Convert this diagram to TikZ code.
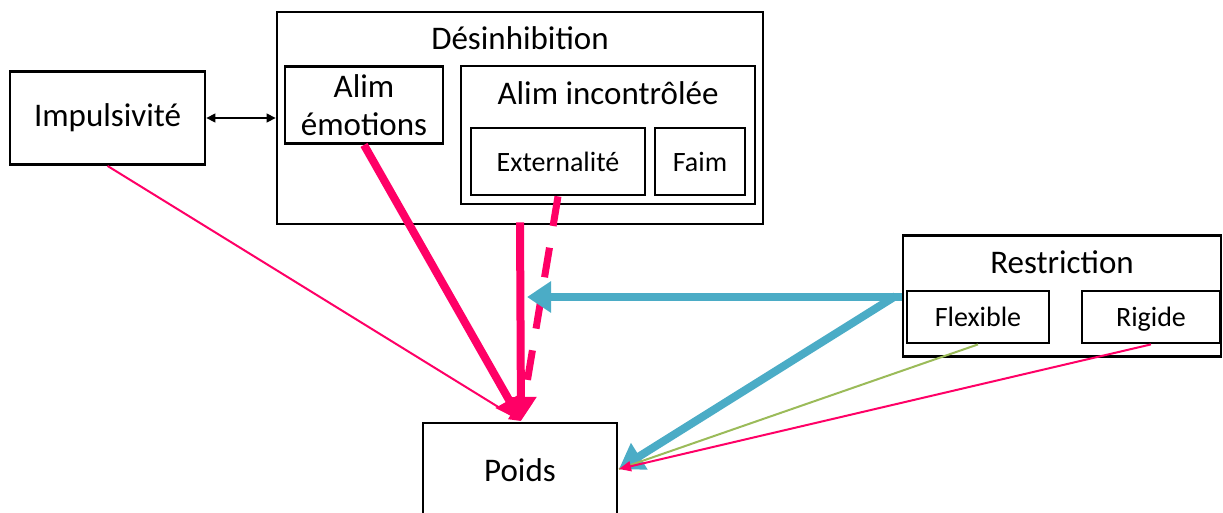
\documentclass[tikz,border=0pt]{standalone}
\usepackage{fontspec}
\setmainfont{Carlito}
\usetikzlibrary{arrows.meta}

\begin{document}
\begin{tikzpicture}[x=1pt, y=-1pt]
    % -----------------------------
    % Parameters (tweak as needed)
    % -----------------------------
    \def\lwBox{2.8pt}     % outline of boxes
    \def\lwThick{8pt}     % strong links
    \def\lwThin{2pt}      % weak links

    % Colours of the links
    \definecolor{linkMag}{HTML}{FF0066}
    \definecolor{linkCyan}{HTML}{4BACC6}
    \definecolor{linkGreen}{HTML}{9BBB59}

    % Label fonts
    \newcommand{\bigfont}{\fontsize{33pt}{38pt}\selectfont}
    \newcommand{\smallfont}{\fontsize{28pt}{30pt}\selectfont}

    % -----------------------------
    % Styles
    % -----------------------------
    \tikzset{box/.style={draw=black, line width=\lwBox, rectangle, inner sep=0pt, align=center},
             smallbox/.style={box, font=\smallfont, text height=24pt, text depth=5pt},
             title/.style={inner sep=0pt, font=\bigfont},
             magStrong/.style={draw=linkMag, line width=\lwThick, -{Triangle[length=24pt, width=30pt]}},
             magWeak/.style={draw=linkMag, line width=\lwThin, -{Triangle[length=12pt, width=10pt]}},
             cyanStrong/.style={draw=linkCyan, line width=\lwThick, -{Triangle[length=24pt, width=30pt]}}}

    % Bounding box of the picture
    \useasboundingbox (0,0) rectangle (1223,512);

    % -----------------------------
    % Boxes
    % -----------------------------
    \node[box, minimum width=195, minimum height=93, font=\bigfont] (Imp) at (107.5,118) {Impulsivité};

    \node[box, minimum width=486, minimum height=212] (Des) at (520,118) {};
    \node[title] (DesT) at (520,38) {Désinhibition};
    \node[box, minimum width=158, minimum height=77, font=\bigfont] (Emo) at (364,105) {Alim\\émotions};
    \node[box, minimum width=294, minimum height=138] (Inc) at (608,135) {};
    \node[title] (IncT) at (608,93) {Alim incontrôlée};
    \node[smallbox, minimum width=174, minimum height=67] (Ext) at (558,161.5) {Externalité};
    \node[smallbox, minimum width=90, minimum height=67] (Faim) at (700,161.5) {Faim};

    \node[box, minimum width=318, minimum height=121] (Res) at (1062,296) {};
    \node[title] (ResT) at (1062,262) {Restriction};
    \node[smallbox, minimum width=142, minimum height=52] (Flex) at (978,317) {Flexible};
    \node[smallbox, minimum width=138, minimum height=52] (Rig) at (1151,317) {Rigide};

    \node[box, minimum width=194, minimum height=94, font=\bigfont] (Poids) at (520,470) {Poids};

    % -----------------------------
    % Links
    % -----------------------------
    \draw[black, line width=1.3pt, {Triangle[length=9pt, width=9pt]}-{Triangle[length=9pt, width=9pt]}]
        (Imp.east) -- (Des.west);

    \coordinate (PoidsTop) at (521,421);
    \coordinate (PoidsSide) at (619,469);
    \coordinate (DesCut) at (527,297);

    \draw[magWeak] (Imp.south) -- (PoidsTop);
    \draw[magStrong] (Emo.south) -- (PoidsTop);
    \draw[magStrong] ([yshift=3]Des.south) -- (PoidsTop);
    \draw[draw=linkMag, line width=7pt, dash pattern=on 30pt off 22pt] (Ext.south) -- ([shift={(1,-8)}]PoidsTop);

    \draw[cyanStrong] (Res.west |- DesCut) -- (DesCut);
    \draw[cyanStrong] ([xshift=-6]Res.west) -- (PoidsSide);
    \draw[draw=linkGreen, line width=\lwThin] (Flex.south) -- (PoidsSide);
    \draw[magWeak] (Rig.south) -- (PoidsSide);

\end{tikzpicture}
\end{document}
